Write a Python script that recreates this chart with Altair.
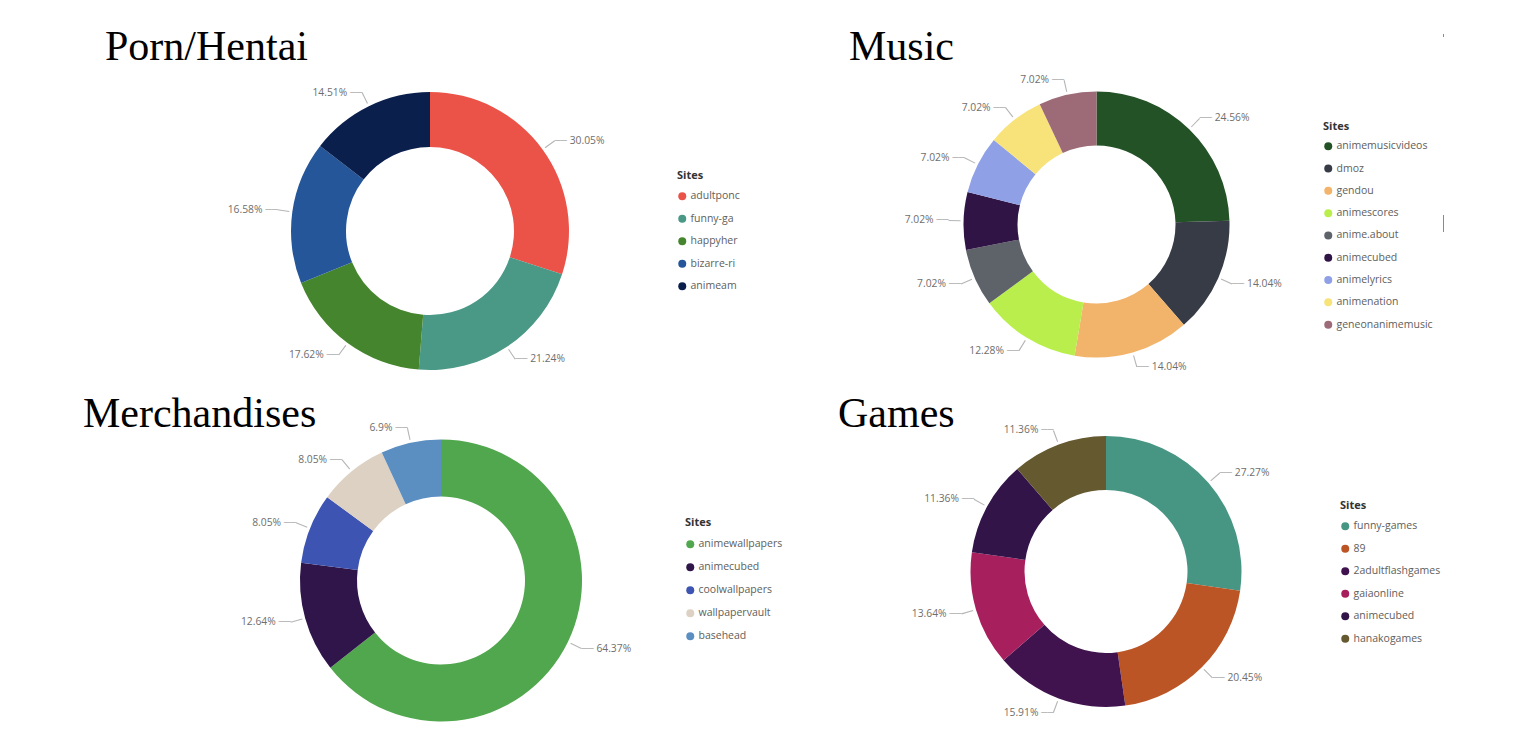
import math
import altair as alt
import pandas as pd

titles = ["Porn/Hentai", "Music", "Merchandises", "Games"]

porn_sites = ["adultponc", "funny-ga", "happyher", "bizarre-ri", "animeam"]
porn_values = [30.05, 21.24, 17.62, 16.58, 14.51]
porn_colors = ["#EB5349", "#4A9886", "#45852D", "#245699", "#0B1F4D"]

music_sites = ["animemusicvideos", "dmoz", "gendou", "animescores", "anime.about",
               "animecubed", "animelyrics", "animenation", "geneonanimemusic"]
music_values = [24.56, 14.04, 14.04, 12.28, 7.02, 7.02, 7.02, 7.02, 7.02]
music_colors = ["#235226", "#373B45", "#F2B36A", "#BAEE4D", "#5E6269",
                "#301446", "#8FA0E6", "#F8E27A", "#9C6B77"]

merch_sites = ["animewallpapers", "animecubed", "coolwallpapers", "wallpapervault", "basehead"]
merch_values = [64.37, 12.64, 8.05, 8.05, 6.9]
merch_colors = ["#51A74D", "#30154A", "#3D54B2", "#DCD1C2", "#5B8EC1"]

games_sites = ["funny-games", "89", "2adultflashgames", "gaiaonline", "animecubed", "hanakogames"]
games_values = [27.27, 20.45, 15.91, 13.64, 11.36, 11.36]
games_colors = ["#479683", "#BB5526", "#40134E", "#A81F5E", "#321449", "#655930"]

# layout (styles only)
panels = [
    dict(cx=430, cy=231, R=139, r=84, tx=105, ty=60, lx=677, ly=170, rp=11.5, tp=10),
    dict(cx=1096.5, cy=224.5, R=133, r=79, tx=849, ty=60, lx=1323, ly=121, rp=11.3, tp=9),
    dict(cx=441, cy=580.5, R=141, r=84, tx=83, ty=427, lx=685, ly=517, rp=12, tp=11),
    dict(cx=1106, cy=571.5, R=135.5, r=81.5, tx=838, ty=427, lx=1340, ly=500, rp=11.5, tp=10),
]

LABEL_FONT = "Open Sans"
tscale = alt.Scale(domain=[0, 1])


def donut(sites, values, colors, p):
    df = pd.DataFrame({"site": sites, "value": values, "idx": list(range(len(sites)))})
    base = (
        alt.Chart(df)
        .transform_joinaggregate(total="sum(value)")
        .transform_window(cum="sum(value)", sort=[alt.SortField("idx")], frame=[None, 0])
        .transform_calculate(
            t0="(datum.cum - datum.value) / datum.total",
            t1="datum.cum / datum.total",
            tm="(datum.cum - datum.value / 2) / datum.total",
            label="datum.value + '%'",
        )
    )
    cx = alt.value(p["cx"])
    cy = alt.value(p["cy"])
    arc = base.mark_arc(radius=p["R"], radius2=p["r"]).encode(
        x=cx, y=cy,
        theta=alt.Theta("t0:Q", scale=tscale, stack=False),
        theta2="t1:Q",
        color=alt.Color(
            "site:N",
            sort=sites,
            scale=alt.Scale(domain=sites, range=colors),
            legend=alt.Legend(
                orient="none", legendX=p["lx"], legendY=p["ly"], title="Sites",
                symbolType="circle", symbolSize=64, symbolStrokeWidth=0,
                titleFont=LABEL_FONT, titleFontSize=11, titleFontWeight="bold",
                titleColor="#333333", labelFont=LABEL_FONT, labelFontSize=10.5,
                labelColor="#605E5C", rowPadding=p["rp"], titlePadding=p["tp"], labelOffset=3,
                padding=0, offset=0,
            ),
        ),
    )
    eps = 0.55 / (2 * math.pi * (p["R"] + 9))
    line = (
        base.transform_calculate(a0=f"datum.tm - {eps}", a1=f"datum.tm + {eps}")
        .mark_arc(radius=p["R"] + 15, radius2=p["R"] + 3, color="#b5b5b5")
        .encode(x=cx, y=cy, theta=alt.Theta("a0:Q", scale=tscale, stack=False), theta2="a1:Q")
    )
    layers = [arc, line]
    for cond, align, dx in [("datum.tm < 0.5", "left", 15), ("datum.tm >= 0.5", "right", -15)]:
        sub = base.transform_filter(cond)
        dash = sub.mark_text(
            text="──", align=align, baseline="middle", font="DejaVu Sans Mono",
            fontSize=10, color="#b5b5b5", radius=p["R"] + 15,
        ).encode(x=cx, y=cy, theta=alt.Theta("tm:Q", scale=tscale, stack=False))
        txt = sub.mark_text(
            align=align, baseline="middle", font=LABEL_FONT, fontSize=10.3,
            color="#6e6e6e", radius=p["R"] + 15, dx=dx,
        ).encode(x=cx, y=cy, theta=alt.Theta("tm:Q", scale=tscale, stack=False), text="label:N")
        layers += [dash, txt]
    return layers


def title_layer(t, p):
    return alt.Chart(pd.DataFrame({"t": [t]})).mark_text(
        align="left", baseline="alphabetic", font="Liberation Serif", fontSize=42, color="#000000",
    ).encode(x=alt.value(p["tx"]), y=alt.value(p["ty"]), text="t:N")


all_layers = []
for (s, v, c), p, t in zip(
    [(porn_sites, porn_values, porn_colors), (music_sites, music_values, music_colors),
     (merch_sites, merch_values, merch_colors), (games_sites, games_values, games_colors)],
    panels, titles,
):
    all_layers += donut(s, v, c, p)
    all_layers.append(title_layer(t, p))

deco = alt.Chart(pd.DataFrame({"a": [0]}))
all_layers.append(deco.mark_rule(color="#8a8a8a", strokeWidth=1).encode(
    x=alt.value(1443.5), y=alt.value(215), y2=alt.value(232)))
all_layers.append(deco.mark_rule(color="#8a8a8a", strokeWidth=1).encode(
    x=alt.value(1443.5), y=alt.value(34), y2=alt.value(37)))

chart = (
    alt.layer(*all_layers)
    .resolve_scale(color="independent")
    .properties(width=1533, height=738, autosize="none", padding=0, background="white")
    .configure_view(stroke=None)
)

chart.save("out.html", embed_options={"renderer": "svg", "actions": False})
